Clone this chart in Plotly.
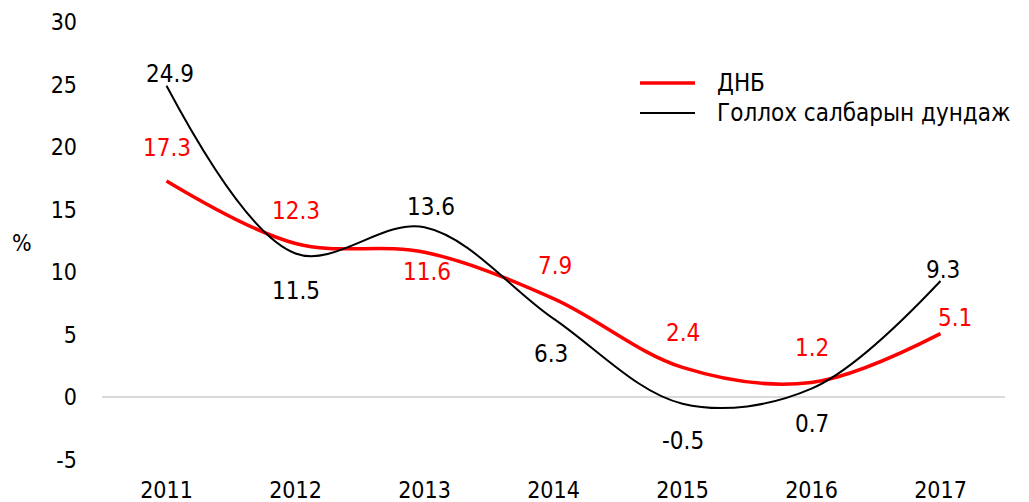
import plotly.graph_objects as go

years = ["2011", "2012", "2013", "2014", "2015", "2016", "2017"]
dnb = [17.3, 12.3, 11.6, 7.9, 2.4, 1.2, 5.1]
sector_avg = [24.9, 11.5, 13.6, 6.3, -0.5, 0.7, 9.3]
y_ticks = [-5, 0, 5, 10, 15, 20, 25, 30]
series_names = ["ДНБ", "Голлох салбарын дундаж"]
series_colors = ["#ff0000", "#000000"]
series_widths = [3.5, 2]

# label offsets in px (style only)
dnb_shift = [33, 33, -20, 33, 34, 34, 16]
dnb_xshift = [0, 0, 2, 1, 0, 0, 14]
avg_shift = [12, -37, 20, -35, -37, -35, 11]
avg_xshift = [3, 0, 6, -3, 0, 0, 2]

font = "DejaVu Sans Condensed"

fig = go.Figure()
for name, vals, col, w in zip(series_names, [dnb, sector_avg], series_colors, series_widths):
    fig.add_trace(go.Scatter(
        x=years, y=vals, name=name, mode="lines", showlegend=False,
        line=dict(color=col, width=w, shape="spline", smoothing=1.0),
    ))

for i, yr in enumerate(years):
    fig.add_annotation(x=i, y=dnb[i], text=f"{dnb[i]:.1f}", showarrow=False,
                       yshift=dnb_shift[i], xshift=dnb_xshift[i],
                       font=dict(color="#ff0000", size=24, family=font))
    fig.add_annotation(x=i, y=sector_avg[i], text=f"{sector_avg[i]:.1f}", showarrow=False,
                       yshift=avg_shift[i], xshift=avg_xshift[i],
                       font=dict(color="#000000", size=24, family=font))

fig.add_annotation(xref="paper", yref="paper", x=0, xshift=-80, y=0.495, xanchor="center",
                   text="%", showarrow=False, font=dict(size=23, family=font, color="#000"))

# legend drawn by hand
leg_y = [0.8607, 0.7922]
for name, col, w, ly in zip(series_names, series_colors, series_widths, leg_y):
    fig.add_shape(type="line", xref="paper", yref="paper", x0=0.5958, x1=0.6567,
                  y0=ly, y1=ly, line=dict(color=col, width=w))
    fig.add_annotation(xref="paper", yref="paper", x=0.6788, y=ly, xanchor="left",
                       yanchor="middle", text=name, showarrow=False,
                       font=dict(size=24, family=font, color="#000"))

fig.update_layout(
    width=1021, height=494,
    margin=dict(l=94, r=24, t=14, b=42),
    paper_bgcolor="white", plot_bgcolor="white",
    font=dict(family=font, size=23, color="#000"),
    showlegend=False,
    xaxis=dict(type="category", showgrid=False, showline=False, ticks="",
               range=[-0.5, 6.5], tickfont=dict(size=23), automargin=False,
               ticklabelstandoff=14),
    yaxis=dict(range=[-5, 30], tickvals=y_ticks, ticktext=[str(v) for v in y_ticks],
               showgrid=False, showline=False, automargin=False,
               zeroline=True, zerolinecolor="#d9d9d9", zerolinewidth=1.5,
               ticks="", ticklabelstandoff=24, tickfont=dict(size=23)),
)

fig.write_html("out.html")
